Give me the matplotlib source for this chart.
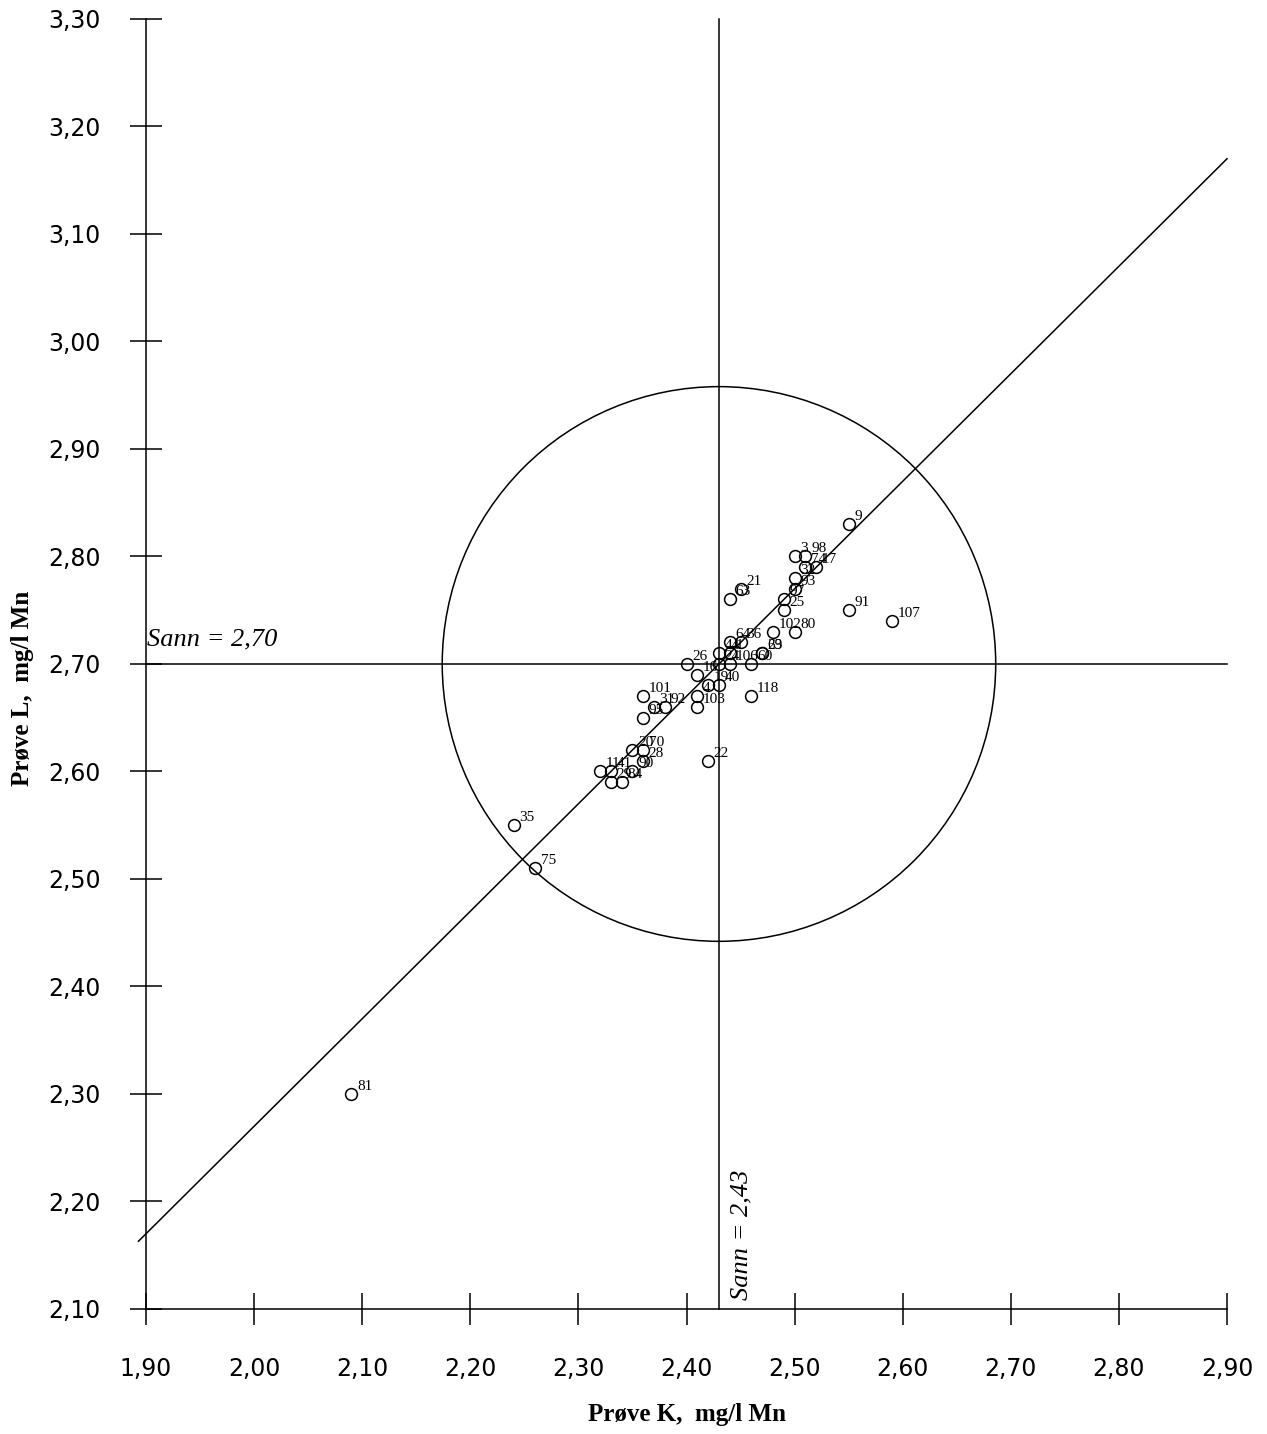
import matplotlib
matplotlib.use('Agg')
import matplotlib.pyplot as plt
from matplotlib.patches import Ellipse

# ---- data ----
labels = ["81", "35", "75", "11", "41", "29", "84", "90", "28", "20", "70", "22",
          "101", "95", "31", "92", "4", "103", "16", "26", "19", "40",
          "24", "106", "44", "1", "64", "36", "60", "69", "23",
          "102", "25", "80", "97", "93", "32", "74", "17", "3", "98", "9",
          "21", "63", "91", "107", "118"]
prove_k = [2.09, 2.24, 2.26, 2.32, 2.33, 2.33, 2.34, 2.35, 2.36, 2.35, 2.36, 2.42,
           2.36, 2.36, 2.37, 2.38, 2.41, 2.41, 2.41, 2.40, 2.42, 2.43,
           2.43, 2.44, 2.43, 2.44, 2.44, 2.45, 2.46, 2.47, 2.47,
           2.48, 2.49, 2.50, 2.49, 2.50, 2.50, 2.51, 2.52, 2.50, 2.51, 2.55,
           2.45, 2.44, 2.55, 2.59, 2.46]
prove_l = [2.30, 2.55, 2.51, 2.60, 2.60, 2.59, 2.59, 2.60, 2.61, 2.62, 2.62, 2.61,
           2.67, 2.65, 2.66, 2.66, 2.67, 2.66, 2.69, 2.70, 2.68, 2.68,
           2.70, 2.70, 2.71, 2.71, 2.72, 2.72, 2.70, 2.71, 2.71,
           2.73, 2.75, 2.73, 2.76, 2.77, 2.78, 2.79, 2.79, 2.80, 2.80, 2.83,
           2.77, 2.76, 2.75, 2.74, 2.67]
true_k = 2.43
true_l = 2.70
x_ticks = [1.90, 2.00, 2.10, 2.20, 2.30, 2.40, 2.50, 2.60, 2.70, 2.80, 2.90]
y_ticks = [2.10, 2.20, 2.30, 2.40, 2.50, 2.60, 2.70, 2.80, 2.90, 3.00, 3.10, 3.20, 3.30]
x_tick_labels = ["1,90", "2,00", "2,10", "2,20", "2,30", "2,40", "2,50", "2,60", "2,70", "2,80", "2,90"]
y_tick_labels = ["2,10", "2,20", "2,30", "2,40", "2,50", "2,60", "2,70", "2,80", "2,90", "3,00", "3,10", "3,20", "3,30"]
circle_w = 0.512
circle_h = 0.516
diag_start = 1.893

serif = "Liberation Serif"
sans = "DejaVu Sans"

fig = plt.figure(figsize=(12.67, 14.34), dpi=100)
ax = fig.add_axes([0.08966, 0.0647, 0.9044, 0.92956])
ax.set_xlim(1.87, 2.93)
ax.set_ylim(2.07, 3.31)

for s in ["top", "right"]:
    ax.spines[s].set_visible(False)
ax.spines["left"].set_position(("data", x_ticks[0]))
ax.spines["bottom"].set_position(("data", y_ticks[0]))
ax.spines["left"].set_bounds(y_ticks[0], y_ticks[-1])
ax.spines["bottom"].set_bounds(x_ticks[0], x_ticks[-1])
for s in ["left", "bottom"]:
    ax.spines[s].set_linewidth(1.1)

ax.set_xticks(x_ticks)
ax.set_xticklabels(x_tick_labels, fontfamily=sans, fontsize=17)
ax.set_yticks(y_ticks)
ax.set_yticklabels(y_tick_labels, fontfamily=sans, fontsize=17)
ax.tick_params(axis="both", direction="inout", length=23, width=1.1)
ax.tick_params(axis="x", pad=23)
ax.tick_params(axis="y", pad=21)

# reference lines
ax.plot([true_k, true_k], [y_ticks[0], y_ticks[-1]], color="black", lw=1.1)
ax.plot([x_ticks[0], x_ticks[-1]], [true_l, true_l], color="black", lw=1.1)
ax.plot([diag_start, x_ticks[-1]],
        [diag_start + true_l - true_k, x_ticks[-1] + true_l - true_k],
        color="black", lw=1.1)
ax.add_patch(Ellipse((true_k, true_l), circle_w, circle_h, fill=False,
                     edgecolor="black", lw=1.1))

# points
ax.plot(prove_k, prove_l, linestyle="none", marker="o", ms=8.5,
        mfc="none", mec="black", mew=1.1, zorder=3)
for lab, x, y in zip(labels, prove_k, prove_l):
    ax.annotate(lab, (x, y), xytext=(4, 3), textcoords="offset points",
                fontfamily=serif, fontsize=11, ha="left", va="baseline")

ax.text(1.901, 2.717, "Sann = 2,70", fontfamily=serif, fontstyle="italic",
        fontsize=19, ha="left", va="baseline")
ax.text(2.451, 2.108, "Sann = 2,43", fontfamily=serif, fontstyle="italic",
        fontsize=19, ha="center", va="bottom", rotation=90)

fig.text(0.5422, 0.0139, "Prøve K,  mg/l Mn", fontfamily=serif, fontweight="bold",
         fontsize=18, ha="center", va="center")
fig.text(0.0175, 0.52, "Prøve L,  mg/l Mn", fontfamily=serif, fontweight="bold",
         fontsize=18, ha="center", va="center", rotation=90)

fig.savefig("out.png", dpi=100)
